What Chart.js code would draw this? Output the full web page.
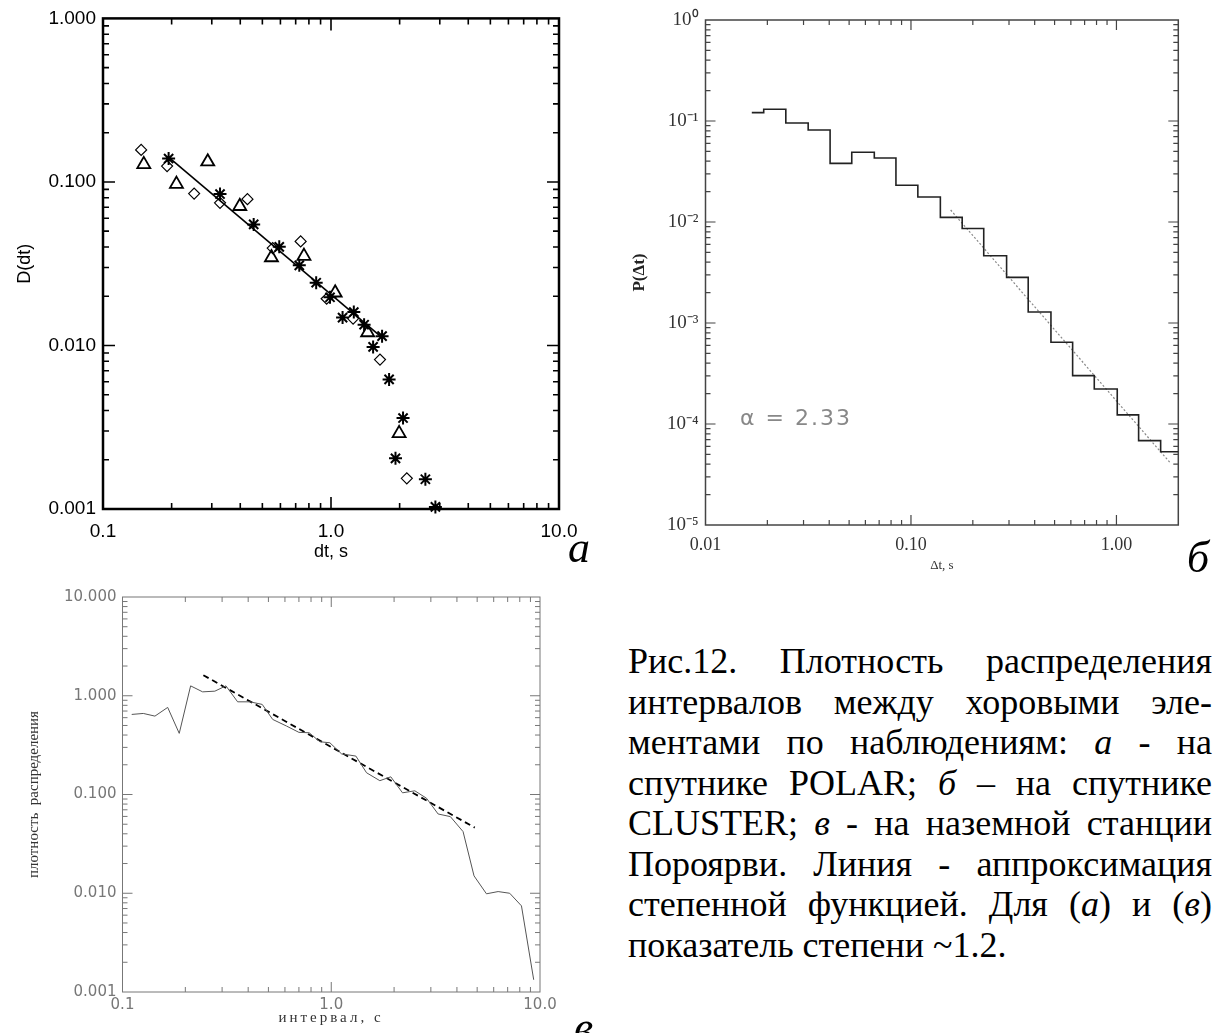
<!DOCTYPE html>
<html lang="ru">
<head>
<meta charset="utf-8">
<title>Рис.12</title>
<script src="https://cdn.jsdelivr.net/npm/chart.js@4.4.1/dist/chart.umd.min.js"></script>
<style>
  html, body { margin:0; padding:0; background:#fff; }
  body { width:1217px; height:1033px; position:relative; overflow:hidden; }
  canvas { position:absolute; }
  #ca { left:0; top:0; }
  #cb { left:600px; top:0; }
  #cc { left:0; top:580px; }
  .plabel { position:absolute; font-family:"Liberation Serif","Times New Roman",serif; font-style:italic; font-size:44px; line-height:44px; color:#000; }
  #caption { position:absolute; left:628px; top:641px; width:584px; font-family:"Liberation Serif","Times New Roman",serif; font-size:36px; line-height:40.5px; color:#000; }
  #caption .ln { text-align:justify; text-align-last:justify; }
  #caption .last { text-align:left; text-align-last:left; }
  #alpha { position:absolute; left:740px; top:404px; font-family:"DejaVu Sans",sans-serif; font-size:22px; line-height:28px; color:#888; letter-spacing:2px; white-space:pre; }
  #cxtitle { position:absolute; left:231px; width:200px; top:1006px; text-align:center; font-family:"Liberation Serif",serif; font-size:15px; line-height:22px; letter-spacing:3px; color:#333; white-space:nowrap; }
</style>
</head>
<body>
<canvas id="ca" width="600" height="575"></canvas>
<canvas id="cb" width="617" height="580"></canvas>
<canvas id="cc" width="600" height="453"></canvas>

<div class="plabel" style="left:568px; top:526px;">а</div>
<div class="plabel" style="left:1187px; top:536px;">б</div>
<div class="plabel" style="left:574px; top:1006px;">в</div>

<div id="alpha">α = 2.33</div>
<div id="cxtitle">интервал, с</div>

<div id="caption">
  <div class="ln">Рис.12. Плотность распределения</div>
  <div class="ln">интервалов между хоровыми эле-</div>
  <div class="ln">ментами по наблюдениям: <i>а</i> - на</div>
  <div class="ln">спутнике POLAR; <i>б</i> – на спутнике</div>
  <div class="ln">CLUSTER; <i>в</i> - на наземной станции</div>
  <div class="ln">Пороярви. Линия - аппроксимация</div>
  <div class="ln">степенной функцией. Для (<i>а</i>) и (<i>в</i>)</div>
  <div class="ln last">показатель степени ~1.2.</div>
</div>

<script>
// ---------- Panel а (POLAR) ----------
const aXTicks = [0.1, 1, 10];
const aXTickLabels = ['0.1', '1.0', '10.0'];
const aYTicks = [0.001, 0.01, 0.1, 1];
const aYTickLabels = ['0.001', '0.010', '0.100', '1.000'];
const aDiamondX = [0.147, 0.191, 0.251, 0.326, 0.43, 0.555, 0.736, 0.957, 1.25, 1.64, 2.15];
const aDiamondY = [0.157, 0.125, 0.0849, 0.0745, 0.0785, 0.0394, 0.0433, 0.0193, 0.0146, 0.0082, 0.00154];
const aTriangleX = [0.151, 0.21, 0.288, 0.398, 0.548, 0.761, 1.043, 1.448, 1.99];
const aTriangleY = [0.128, 0.097, 0.133, 0.071, 0.0345, 0.0352, 0.021, 0.012, 0.0029];
const aStarX = [0.194, 0.326, 0.458, 0.593, 0.726, 0.861, 0.99, 1.124, 1.259, 1.397, 1.53, 1.675, 1.798, 2.07, 1.918, 2.594, 2.87];
const aStarY = [0.139, 0.0843, 0.055, 0.0401, 0.0309, 0.0242, 0.0197, 0.0148, 0.016, 0.0134, 0.0098, 0.0114, 0.0062, 0.0036, 0.00204, 0.00152, 0.00103];
const aFitX = [0.195, 1.66];
const aFitY = [0.141, 0.0113];

// ---------- Panel б (CLUSTER) ----------
const bXTicks = [0.01, 0.1, 1];
const bXTickLabels = ['0.01', '0.10', '1.00'];
const bYTicks = [1e-5, 1e-4, 1e-3, 1e-2, 1e-1, 1];
const bYTickLabels = ['10⁻⁵', '10⁻⁴', '10⁻³', '10⁻²', '10⁻¹', '10⁰'];
const bBinX = [0.0168, 0.0192, 0.0246, 0.0316, 0.0404, 0.0515, 0.0663, 0.0845, 0.108, 0.139, 0.1775,
               0.226, 0.292, 0.372, 0.480, 0.612, 0.780, 1.009, 1.282, 1.641, 2.0];
const bBinP = [0.121, 0.1305, 0.0955, 0.0814, 0.0381, 0.049, 0.043, 0.0231, 0.0177, 0.0111, 0.00863,
               0.00464, 0.00283, 0.001285, 0.000644, 0.000301, 0.000222, 0.000123, 0.0000684, 0.0000532, 0.0000532];
const bFitX = [0.156, 1.836];
const bFitY = [0.01315, 0.0000408];

// ---------- Panel в (Пороярви) ----------
const cXTicks = [0.1, 1, 10];
const cXTickLabels = ['0.1', '1.0', '10.0'];
const cYTicks = [0.001, 0.01, 0.1, 1, 10];
const cYTickLabels = ['0.001', '0.010', '0.100', '1.000', '10.000'];
const cX = [0.1107, 0.1258, 0.143, 0.1646, 0.187, 0.212, 0.242, 0.277, 0.313, 0.356, 0.408, 0.467, 0.524,
            0.611, 0.70, 0.784, 0.882, 0.985, 1.12, 1.312, 1.476, 1.709, 1.929, 2.195, 2.514, 2.86, 3.25,
            3.72, 4.28, 4.83, 5.54, 6.3, 7.16, 8.15, 9.33];
const cY = [0.647, 0.662, 0.622, 0.762, 0.416, 1.259, 1.095, 1.113, 1.259, 0.868, 0.868, 0.817, 0.576,
            0.493, 0.426, 0.422, 0.342, 0.334, 0.258, 0.245, 0.166, 0.138, 0.151, 0.104, 0.109, 0.0916, 0.0635,
            0.0597, 0.0421, 0.015, 0.00987, 0.0104, 0.0100, 0.00745, 0.00133];
const cFitX = [0.244, 4.87];
const cFitY = [1.615, 0.0462];

// ---------- helpers ----------
const pts = (xs, ys) => xs.map((x, i) => ({x: x, y: ys[i]}));

function logTicks(min, max) {
  const out = [];
  const e0 = Math.floor(Math.log10(min) + 1e-9), e1 = Math.ceil(Math.log10(max) - 1e-9);
  for (let e = e0; e <= e1; e++) {
    for (let k = 1; k <= 9; k++) {
      const v = k * Math.pow(10, e);
      if (v >= min * (1 - 1e-9) && v <= max * (1 + 1e-9)) out.push({v: v, major: k === 1});
    }
  }
  return out;
}

const framePlugin = {
  id: 'frame',
  beforeDatasetsDraw(chart, args, o) {
    const ctx = chart.ctx, a = chart.chartArea;
    const xs = chart.scales.x, ys = chart.scales.y;
    ctx.save();
    ctx.strokeStyle = o.color;
    ctx.lineWidth = o.tickWidth;
    ctx.beginPath();
    for (const t of logTicks(xs.min, xs.max)) {
      const p = xs.getPixelForValue(t.v);
      if (p <= a.left + 0.5 || p >= a.right - 0.5) continue;
      const L = t.major ? o.major : o.minor;
      ctx.moveTo(p, a.bottom); ctx.lineTo(p, a.bottom - L);
      ctx.moveTo(p, a.top); ctx.lineTo(p, a.top + L);
    }
    for (const t of logTicks(ys.min, ys.max)) {
      const p = ys.getPixelForValue(t.v);
      if (p <= a.top + 0.5 || p >= a.bottom - 0.5) continue;
      const L = t.major ? o.major : o.minor;
      ctx.moveTo(a.left, p); ctx.lineTo(a.left + L, p);
      ctx.moveTo(a.right, p); ctx.lineTo(a.right - L, p);
    }
    ctx.stroke();
    ctx.lineWidth = o.width;
    ctx.strokeRect(a.left, a.top, a.right - a.left, a.bottom - a.top);
    ctx.restore();
  }
};

function logAxis(o) {
  return {
    type: 'logarithmic', position: o.position, min: o.min, max: o.max,
    grid: {display: false, drawTicks: false}, border: {display: false},
    afterBuildTicks: s => { s.ticks = o.ticks.map(v => ({value: v})); },
    afterFit: s => { if (o.position === 'left') s.width = o.size; else s.height = o.size; },
    ticks: {autoSkip: false, maxRotation: 0, minRotation: 0, padding: o.pad, color: o.color, font: o.font,
            callback: (v, i) => o.labels[i]},
    title: o.title ? {display: true, text: o.title, color: o.titleColor, font: o.titleFont, padding: o.titlePad}
                   : {display: false}
  };
}

const baseOpts = {responsive: false, animation: false, events: []};

// ---------- Chart а ----------
new Chart(document.getElementById('ca'), {
  type: 'scatter',
  data: {datasets: [
    {data: pts(aFitX, aFitY), showLine: true, borderColor: '#000', borderWidth: 1.6, pointRadius: 0},
    {data: pts(aDiamondX, aDiamondY), pointStyle: 'rectRot', pointRadius: 5.5, pointBorderColor: '#000',
     pointBackgroundColor: 'rgba(0,0,0,0)', pointBorderWidth: 1.2, clip: false},
    {data: pts(aTriangleX, aTriangleY), pointStyle: 'triangle', pointRadius: 7.5, pointBorderColor: '#000',
     pointBackgroundColor: 'rgba(0,0,0,0)', pointBorderWidth: 1.8, clip: false},
    {data: pts(aStarX, aStarY), pointStyle: 'star', pointRadius: 6.5, pointBorderColor: '#000',
     pointBackgroundColor: 'rgba(0,0,0,0)', pointBorderWidth: 2, clip: false}
  ]},
  options: Object.assign({}, baseOpts, {
    layout: {padding: {left: 0, top: 17, right: 41, bottom: 0}},
    plugins: {legend: {display: false}, tooltip: {enabled: false},
              frame: {color: '#000', width: 2.5, tickWidth: 1.6, major: 12, minor: 6}},
    scales: {
      x: logAxis({position: 'bottom', min: 0.1, max: 10, ticks: aXTicks, labels: aXTickLabels, size: 66, pad: 11.6,
                  color: '#000', font: {family: 'Liberation Sans', size: 19},
                  title: 'dt, s', titleColor: '#000', titleFont: {family: 'Liberation Sans', size: 18},
                  titlePad: {top: 0, bottom: 12.2}}),
      y: logAxis({position: 'left', min: 0.001, max: 1, ticks: aYTicks, labels: aYTickLabels, size: 103, pad: 7,
                  color: '#000', font: {family: 'Liberation Sans', size: 19},
                  title: 'D(dt)', titleColor: '#000', titleFont: {family: 'Liberation Sans', size: 18},
                  titlePad: {top: 14, bottom: 0}})
    }
  }),
  plugins: [framePlugin]
});

// ---------- Chart б ----------
new Chart(document.getElementById('cb'), {
  type: 'scatter',
  data: {datasets: [
    {data: pts(bBinX, bBinP), showLine: true, stepped: 'before', borderColor: '#222', borderWidth: 1.6, pointRadius: 0},
    {data: pts(bFitX, bFitY), showLine: true, borderColor: '#888', borderWidth: 1.2, borderDash: [2, 2], pointRadius: 0}
  ]},
  options: Object.assign({}, baseOpts, {
    layout: {padding: {left: 0, top: 20, right: 38.7, bottom: 0}},
    plugins: {legend: {display: false}, tooltip: {enabled: false},
              frame: {color: '#444', width: 1.5, tickWidth: 1.2, major: 10, minor: 5}},
    scales: {
      x: logAxis({position: 'bottom', min: 0.01, max: 2.0, ticks: bXTicks, labels: bXTickLabels, size: 55, pad: 9,
                  color: '#333', font: {family: 'Liberation Serif', size: 18},
                  title: 'Δt, s', titleColor: '#333', titleFont: {family: 'Liberation Serif', size: 13},
                  titlePad: {top: 0, bottom: 7}}),
      y: logAxis({position: 'left', min: 1e-5, max: 1, ticks: bYTicks, labels: bYTickLabels, size: 105.5, pad: 7,
                  color: '#333', font: {family: 'Liberation Serif', size: 19},
                  title: 'P(Δt)', titleColor: '#222', titleFont: {family: 'Liberation Serif', size: 17, weight: 'bold'},
                  titlePad: {top: 29, bottom: 0}})
    }
  }),
  plugins: [framePlugin]
});

// ---------- Chart в ----------
new Chart(document.getElementById('cc'), {
  type: 'scatter',
  data: {datasets: [
    {data: pts(cX, cY), showLine: true, borderColor: '#555', borderWidth: 1, pointRadius: 0},
    {data: pts(cFitX, cFitY), showLine: true, borderColor: '#000', borderWidth: 1.8, borderDash: [6, 4], pointRadius: 0}
  ]},
  options: Object.assign({}, baseOpts, {
    layout: {padding: {left: 0, top: 17, right: 60, bottom: 0}},
    plugins: {legend: {display: false}, tooltip: {enabled: false},
              frame: {color: '#777', width: 1, tickWidth: 1, major: 10, minor: 5}},
    scales: {
      x: logAxis({position: 'bottom', min: 0.1, max: 10, ticks: cXTicks, labels: cXTickLabels, size: 41, pad: 4,
                  color: '#777', font: {family: 'DejaVu Sans', size: 15}}),
      y: logAxis({position: 'left', min: 0.001, max: 10, ticks: cYTicks, labels: cYTickLabels, size: 122.5, pad: 6,
                  color: '#777', font: {family: 'DejaVu Sans', size: 15},
                  title: 'плотность  распределения', titleColor: '#333', titleFont: {family: 'Liberation Serif', size: 15},
                  titlePad: {top: 24.6, bottom: 0}})
    }
  }),
  plugins: [framePlugin]
});
</script>
</body>
</html>
